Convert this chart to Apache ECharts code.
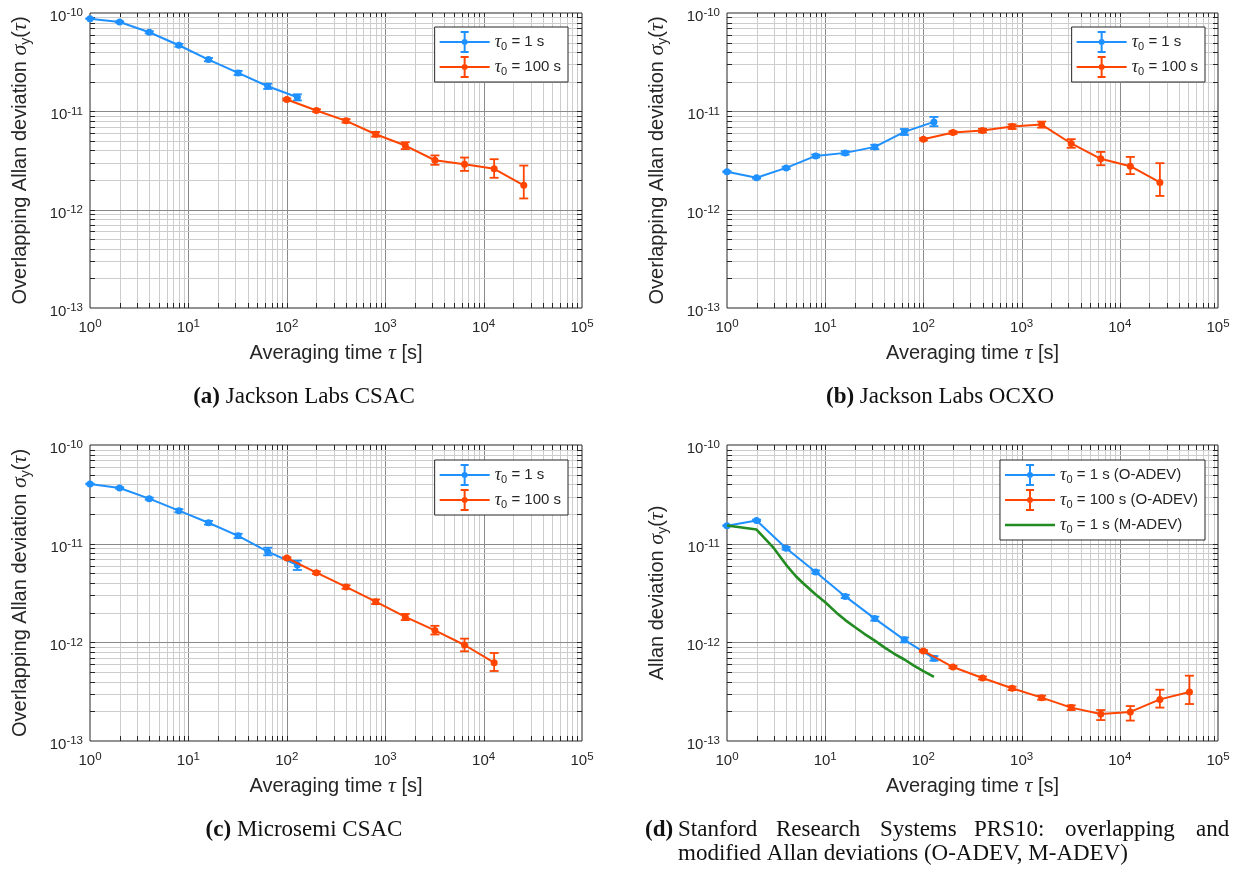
<!DOCTYPE html>
<html>
<head>
<meta charset="utf-8">
<script src="https://cdn.jsdelivr.net/npm/echarts@6/dist/echarts.min.js"></script>
<style>
  html, body { margin: 0; padding: 0; background: #ffffff; }
  #main { width: 1242px; height: 872px; }
</style>
</head>
<body>
<div id="main"></div>
<script>
// ---------------- data: averaging times ----------------
const tauFast = [1, 2, 4, 8, 16, 32, 64, 128];
const tauSlow = [100, 200, 400, 800, 1600, 3200, 6400, 12800, 25600];
const tauSlowMs = [100, 200, 400, 800, 1600, 3200, 6400, 12800];
const tauSlowPrs = [100, 200, 400, 800, 1600, 3200, 6400, 12800, 25600, 51200];
const tauMod = [1, 2, 3, 4, 5, 6, 8, 10, 13, 16, 20, 25, 32, 40, 50, 64, 80, 100, 128];

// ---------------- (a) Jackson Labs CSAC ----------------
const jlCsacFast   = [8.76e-11, 8.10e-11, 6.37e-11, 4.70e-11, 3.36e-11, 2.46e-11, 1.80e-11, 1.39e-11];
const jlCsacFastLo = [8.67e-11, 7.98e-11, 6.21e-11, 4.54e-11, 3.23e-11, 2.34e-11, 1.69e-11, 1.29e-11];
const jlCsacFastHi = [8.85e-11, 8.22e-11, 6.53e-11, 4.86e-11, 3.49e-11, 2.58e-11, 1.91e-11, 1.49e-11];
const jlCsacSlow   = [1.32e-11, 1.02e-11, 8.00e-12, 5.85e-12, 4.49e-12, 3.18e-12, 2.90e-12, 2.60e-12, 1.77e-12];
const jlCsacSlowLo = [1.29e-11, 0.99e-11, 7.68e-12, 5.53e-12, 4.13e-12, 2.86e-12, 2.48e-12, 2.11e-12, 1.30e-12];
const jlCsacSlowHi = [1.35e-11, 1.05e-11, 8.32e-12, 6.17e-12, 4.85e-12, 3.56e-12, 3.39e-12, 3.26e-12, 2.81e-12];

// ---------------- (b) Jackson Labs OCXO ----------------
const jlOcxoFast   = [2.43e-12, 2.11e-12, 2.66e-12, 3.52e-12, 3.78e-12, 4.35e-12, 6.18e-12, 7.81e-12];
const jlOcxoFastLo = [2.40e-12, 2.07e-12, 2.59e-12, 3.40e-12, 3.63e-12, 4.13e-12, 5.75e-12, 7.06e-12];
const jlOcxoFastHi = [2.46e-12, 2.15e-12, 2.73e-12, 3.64e-12, 3.93e-12, 4.57e-12, 6.61e-12, 8.77e-12];
const jlOcxoSlow   = [5.21e-12, 6.08e-12, 6.38e-12, 7.00e-12, 7.34e-12, 4.71e-12, 3.29e-12, 2.77e-12, 1.89e-12];
const jlOcxoSlowLo = [5.08e-12, 5.88e-12, 6.12e-12, 6.62e-12, 6.82e-12, 4.26e-12, 2.83e-12, 2.30e-12, 1.38e-12];
const jlOcxoSlowHi = [5.34e-12, 6.28e-12, 6.64e-12, 7.38e-12, 7.86e-12, 5.21e-12, 3.87e-12, 3.44e-12, 2.97e-12];

// ---------------- (c) Microsemi CSAC ----------------
const msCsacFast   = [4.03e-11, 3.67e-11, 2.86e-11, 2.16e-11, 1.63e-11, 1.20e-11, 8.30e-12, 6.08e-12];
const msCsacFastLo = [3.99e-11, 3.61e-11, 2.79e-11, 2.08e-11, 1.56e-11, 1.14e-11, 7.62e-12, 5.41e-12];
const msCsacFastHi = [4.07e-11, 3.73e-11, 2.93e-11, 2.24e-11, 1.70e-11, 1.26e-11, 9.10e-12, 6.73e-12];
const msCsacSlow   = [7.16e-12, 5.08e-12, 3.64e-12, 2.58e-12, 1.81e-12, 1.32e-12, 9.40e-13, 6.22e-13];
const msCsacSlowLo = [7.02e-12, 4.93e-12, 3.49e-12, 2.44e-12, 1.68e-12, 1.20e-12, 8.11e-13, 5.12e-13];
const msCsacSlowHi = [7.30e-12, 5.23e-12, 3.79e-12, 2.72e-12, 1.94e-12, 1.47e-12, 1.09e-12, 7.80e-13];

// ---------------- (d) SRS PRS10 ----------------
const prsFast   = [1.52e-11, 1.72e-11, 8.97e-12, 5.17e-12, 2.92e-12, 1.74e-12, 1.06e-12, 6.89e-13];
const prsFastLo = [1.50e-11, 1.69e-11, 8.70e-12, 4.99e-12, 2.81e-12, 1.66e-12, 1.00e-12, 6.51e-13];
const prsFastHi = [1.54e-11, 1.75e-11, 9.24e-12, 5.35e-12, 3.03e-12, 1.82e-12, 1.12e-12, 7.26e-13];
const prsSlow   = [8.17e-13, 5.62e-13, 4.35e-13, 3.42e-13, 2.75e-13, 2.18e-13, 1.88e-13, 1.97e-13, 2.64e-13, 3.14e-13];
const prsSlowLo = [8.00e-13, 5.47e-13, 4.20e-13, 3.28e-13, 2.62e-13, 2.06e-13, 1.63e-13, 1.61e-13, 2.18e-13, 2.37e-13];
const prsSlowHi = [8.34e-13, 5.77e-13, 4.50e-13, 3.56e-13, 2.88e-13, 2.30e-13, 2.06e-13, 2.26e-13, 3.31e-13, 4.59e-13];
const prsMod    = [1.53e-11, 1.39e-11, 9.0e-12, 6.1e-12, 4.7e-12, 3.95e-12, 3.05e-12, 2.55e-12, 2.0e-12, 1.68e-12,
                   1.43e-12, 1.22e-12, 1.04e-12, 8.9e-13, 7.7e-13, 6.7e-13, 5.8e-13, 5.1e-13, 4.46e-13];

// ---------------- axis ticks ----------------
const xDecades = [1, 10, 100, 1000, 10000, 100000];
const yDecades = [1e-13, 1e-12, 1e-11, 1e-10];
const minorMantissas = [2, 3, 4, 5, 6, 7, 8, 9];

// ---------------- styling ----------------
const SANS = "'Liberation Sans', Arial, Helvetica, sans-serif";
const SERIF = "'Liberation Serif', 'Times New Roman', serif";
const INK = '#262626';
const BLUE = '#1E90FF';
const RED = '#FF4500';
const GREEN = '#228B22';
const MAJOR_GRID = '#8a8a8a';
const MINOR_GRID = '#cdcdcd';
const X_MIN = 1, X_MAX = 1e5, Y_MIN = 1e-13, Y_MAX = 1e-10;

const ERR_ICON = 'path://M0,10L50,10L50,12L0,12Z M24,0L26,0L26,22L24,22Z M21,0L29,0L29,2L21,2Z M21,20L29,20L29,22L21,22Z M22,11A3,3 0 1,1 28,11A3,3 0 1,1 22,11Z';
const LINE_ICON = 'path://M0,0L0.01,0L0.01,0.01Z M0,9.7L50,9.7L50,12.3L0,12.3Z M49.99,21.99L50,21.99L50,22Z';

const tau0 = (rest) => '{t|τ}{s|0}{n| = ' + rest + '}';

const panels = [
  {
    grid: { left: 90, top: 13, width: 492, height: 295 },
    yName: 'Overlapping Allan deviation ',
    legend: { right: 674, top: 27 },
    curves: [
      { name: 'jlCsac-1s', text: tau0('1 s'), color: BLUE, tau: tauFast, val: jlCsacFast, lo: jlCsacFastLo, hi: jlCsacFastHi },
      { name: 'jlCsac-100s', text: tau0('100 s'), color: RED, tau: tauSlow, val: jlCsacSlow, lo: jlCsacSlowLo, hi: jlCsacSlowHi }
    ]
  },
  {
    grid: { left: 727, top: 13, width: 491, height: 295 },
    yName: 'Overlapping Allan deviation ',
    legend: { right: 37, top: 27 },
    curves: [
      { name: 'jlOcxo-1s', text: tau0('1 s'), color: BLUE, tau: tauFast, val: jlOcxoFast, lo: jlOcxoFastLo, hi: jlOcxoFastHi },
      { name: 'jlOcxo-100s', text: tau0('100 s'), color: RED, tau: tauSlow, val: jlOcxoSlow, lo: jlOcxoSlowLo, hi: jlOcxoSlowHi }
    ]
  },
  {
    grid: { left: 90, top: 445, width: 492, height: 296 },
    yName: 'Overlapping Allan deviation ',
    legend: { right: 674, top: 460 },
    curves: [
      { name: 'msCsac-1s', text: tau0('1 s'), color: BLUE, tau: tauFast, val: msCsacFast, lo: msCsacFastLo, hi: msCsacFastHi },
      { name: 'msCsac-100s', text: tau0('100 s'), color: RED, tau: tauSlowMs, val: msCsacSlow, lo: msCsacSlowLo, hi: msCsacSlowHi }
    ]
  },
  {
    grid: { left: 727, top: 445, width: 491, height: 296 },
    yName: 'Allan deviation ',
    legend: { right: 37, top: 460 },
    curves: [
      { name: 'prs-1s', text: tau0('1 s (O-ADEV)'), color: BLUE, tau: tauFast, val: prsFast, lo: prsFastLo, hi: prsFastHi },
      { name: 'prs-100s', text: tau0('100 s (O-ADEV)'), color: RED, tau: tauSlowPrs, val: prsSlow, lo: prsSlowLo, hi: prsSlowHi },
      { name: 'prs-mod', text: tau0('1 s (M-ADEV)'), color: GREEN, tau: tauMod, val: prsMod, lineOnly: true }
    ]
  }
];

// ---------------- helpers ----------------
function gridValues(decades) {
  const out = [];
  for (let i = 0; i < decades.length; i++) {
    const d = decades[i];
    if (i > 0 && i < decades.length - 1) out.push({ v: d, major: 1 });
    if (i < decades.length - 1) minorMantissas.forEach(m => out.push({ v: m * d, major: 0 }));
  }
  return out;
}

function renderXGrid(params, api) {
  const cs = params.coordSys;
  const px = Math.round(api.coord([api.value(0), api.value(1)])[0]) + 0.5;
  const top = cs.y, bot = cs.y + cs.height;
  return {
    type: 'group',
    children: [
      { type: 'line', shape: { x1: px, y1: top, x2: px, y2: bot }, style: { stroke: api.value(2) ? MAJOR_GRID : MINOR_GRID, lineWidth: 1 } },
      { type: 'line', shape: { x1: px, y1: bot, x2: px, y2: bot - 5 }, style: { stroke: INK, lineWidth: 1 } },
      { type: 'line', shape: { x1: px, y1: top, x2: px, y2: top + 5 }, style: { stroke: INK, lineWidth: 1 } }
    ]
  };
}

function renderYGrid(params, api) {
  const cs = params.coordSys;
  const py = Math.round(api.coord([api.value(0), api.value(1)])[1]) + 0.5;
  const l = cs.x, r = cs.x + cs.width;
  return {
    type: 'group',
    children: [
      { type: 'line', shape: { x1: l, y1: py, x2: r, y2: py }, style: { stroke: api.value(2) ? MAJOR_GRID : MINOR_GRID, lineWidth: 1 } },
      { type: 'line', shape: { x1: l, y1: py, x2: l + 5, y2: py }, style: { stroke: INK, lineWidth: 1 } },
      { type: 'line', shape: { x1: r, y1: py, x2: r - 5, y2: py }, style: { stroke: INK, lineWidth: 1 } }
    ]
  };
}

function errorBarRenderer(color) {
  return function (params, api) {
    const x = api.value(0);
    const lo = api.coord([x, api.value(1)]);
    const hi = api.coord([x, api.value(2)]);
    const w = 4.5;
    const style = { stroke: color, lineWidth: 1.8 };
    return {
      type: 'group',
      children: [
        { type: 'line', shape: { x1: lo[0], y1: lo[1], x2: hi[0], y2: hi[1] }, style },
        { type: 'line', shape: { x1: lo[0] - w, y1: lo[1], x2: lo[0] + w, y2: lo[1] }, style },
        { type: 'line', shape: { x1: hi[0] - w, y1: hi[1], x2: hi[0] + w, y2: hi[1] }, style }
      ]
    };
  };
}

const powerLabel = v => '{b|10}{e|' + Math.round(Math.log10(v)) + '}';
const powerRich = {
  b: { fontFamily: SANS, fontSize: 15, color: INK, lineHeight: 8, padding: [8, 0, 0, 0] },
  e: { fontFamily: SANS, fontSize: 11.5, color: INK, lineHeight: 12, verticalAlign: 'top' }
};
const nameRich = {
  n: { fontFamily: SANS, fontSize: 20, color: INK, lineHeight: 26 },
  g: { fontFamily: SERIF, fontSize: 22, fontStyle: 'italic', color: INK, lineHeight: 26 },
  s: { fontFamily: SANS, fontSize: 14, color: INK, lineHeight: 14, verticalAlign: 'bottom' }
};
const legendRich = {
  t: { fontFamily: SERIF, fontSize: 18, fontStyle: 'italic', color: INK, lineHeight: 20 },
  s: { fontFamily: SANS, fontSize: 11, color: INK, lineHeight: 10, verticalAlign: 'bottom' },
  n: { fontFamily: SANS, fontSize: 15, color: INK, lineHeight: 20 }
};

const legendText = {};
panels.forEach(p => p.curves.forEach(c => { legendText[c.name] = c.text; }));

// ---------------- option assembly ----------------
const grid = [], xAxis = [], yAxis = [], series = [], legend = [];
const xGridData = gridValues(xDecades).map(g => [g.v, 1e-12, g.major]);
const yGridData = gridValues(yDecades).map(g => [10, g.v, g.major]);

panels.forEach((p, i) => {
  grid.push(Object.assign({ show: true, borderColor: INK, borderWidth: 1, backgroundColor: '#ffffff' }, p.grid));
  xAxis.push({
    type: 'log', logBase: 10, gridIndex: i, min: X_MIN, max: X_MAX, interval: 1,
    axisLine: { show: false }, axisTick: { show: false }, splitLine: { show: false },
    axisLabel: { formatter: powerLabel, rich: powerRich, margin: 10, showMinLabel: true, showMaxLabel: true },
    name: '{n|Averaging time }{g|τ}{n| [s]}', nameLocation: 'middle', nameGap: 32,
    nameTextStyle: { rich: nameRich }
  });
  yAxis.push({
    type: 'log', logBase: 10, gridIndex: i, min: Y_MIN, max: Y_MAX, interval: 1,
    axisLine: { show: false }, axisTick: { show: false }, splitLine: { show: false },
    axisLabel: { formatter: powerLabel, rich: powerRich, margin: 7, showMinLabel: true, showMaxLabel: true },
    name: '{n|' + p.yName + '}{g|σ}{s|y}{n|(}{g|τ}{n|)}', nameLocation: 'middle', nameGap: 57,
    nameTextStyle: { rich: nameRich }
  });
  series.push({
    type: 'custom', xAxisIndex: i, yAxisIndex: i, z: 1, silent: true,
    renderItem: renderXGrid, encode: { x: 0, y: 1 }, data: xGridData
  });
  series.push({
    type: 'custom', xAxisIndex: i, yAxisIndex: i, z: 1, silent: true,
    renderItem: renderYGrid, encode: { x: 0, y: 1 }, data: yGridData
  });
  p.curves.forEach((c, k) => {
    series.push({
      type: 'line', name: c.name, xAxisIndex: i, yAxisIndex: i, z: 3 + k,
      data: c.tau.map((t, j) => [t, c.val[j]]),
      color: c.color,
      lineStyle: { color: c.color, width: c.lineOnly ? 2.6 : 2 },
      itemStyle: { color: c.color, borderWidth: 0 },
      symbol: c.lineOnly ? 'none' : 'circle', symbolSize: 7, showSymbol: !c.lineOnly,
      animation: false, silent: true
    });
    if (!c.lineOnly) {
      series.push({
        type: 'custom', xAxisIndex: i, yAxisIndex: i, z: 3 + k, silent: true,
        renderItem: errorBarRenderer(c.color), encode: { x: 0, y: [1, 2] },
        data: c.tau.map((t, j) => [t, c.lo[j], c.hi[j]])
      });
    }
  });
  legend.push({
    orient: 'vertical', right: p.legend.right, top: p.legend.top,
    data: p.curves.map(c => ({ name: c.name, icon: c.lineOnly ? LINE_ICON : ERR_ICON })),
    formatter: name => legendText[name],
    textStyle: { rich: legendRich },
    itemWidth: 50, itemHeight: 22, itemGap: 3,
    itemStyle: { borderWidth: 0 },
    padding: [4, 7, 4, 5],
    backgroundColor: '#ffffff', borderColor: INK, borderWidth: 1, borderRadius: 0,
    selectedMode: false
  });
});

// ---------------- sub-figure captions ----------------
const CAP_SIZE = 23;
const capRich = {
  b: { fontFamily: SERIF, fontSize: CAP_SIZE, fontWeight: 'bold', fill: '#111' },
  r: { fontFamily: SERIF, fontSize: CAP_SIZE, fill: '#111' }
};
function caption(x, y, str, align) {
  return { type: 'text', x: x, y: y, silent: true,
    style: { text: str, rich: capRich, align: align || 'center', verticalAlign: 'middle', font: CAP_SIZE + 'px ' + SERIF, fill: '#111' } };
}
const graphic = [
  caption(304, 397, '{b|(a)}{r| Jackson Labs CSAC}'),
  caption(940, 397, '{b|(b)}{r| Jackson Labs OCXO}'),
  caption(304, 830, '{b|(c)}{r| Microsemi CSAC}'),
  caption(645, 830, '{b|(d)}', 'left'),
  caption(678, 830, '{r|Stanford}', 'left'),
  caption(776, 830, '{r|Research}', 'left'),
  caption(880, 830, '{r|Systems}', 'left'),
  caption(974, 830, '{r|PRS10:}', 'left'),
  caption(1065, 830, '{r|overlapping}', 'left'),
  caption(1196, 830, '{r|and}', 'left'),
  caption(678, 854, '{r|modified Allan deviations (O-ADEV, M-ADEV)}', 'left')
];

const chart = echarts.init(document.getElementById('main'), null, { renderer: 'canvas' });
chart.setOption({
  animation: false,
  backgroundColor: '#ffffff',
  textStyle: { fontFamily: SANS },
  grid, xAxis, yAxis, series, legend, graphic
});
</script>
</body>
</html>
